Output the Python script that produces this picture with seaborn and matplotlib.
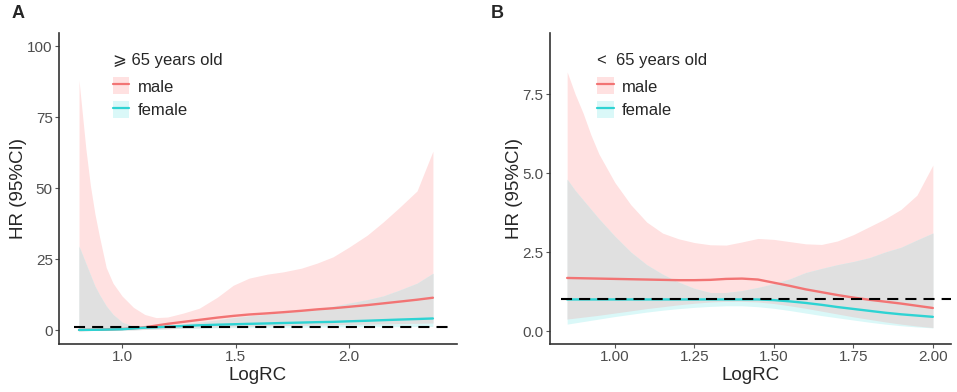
import numpy as np
import seaborn as sns
import matplotlib.pyplot as plt
from matplotlib.patches import Patch
from matplotlib.lines import Line2D
from matplotlib.ticker import FormatStrFormatter

# ---- panel A: >= 65 years old ----
xA = [0.81, 0.82, 0.84, 0.86, 0.88, 0.9, 0.93, 0.96, 1.0, 1.05, 1.1, 1.15, 1.2, 1.27, 1.34,
      1.42, 1.49, 1.56, 1.64, 1.71, 1.79, 1.86, 1.93, 2.0, 2.08, 2.15, 2.22, 2.3, 2.37]
maleA = [0.05, 0.05, 0.07, 0.09, 0.11, 0.13, 0.2, 0.28, 0.4, 0.65, 1.0, 1.6, 2.2, 2.9, 3.6,
         4.4, 5.0, 5.5, 5.9, 6.3, 6.8, 7.3, 7.7, 8.2, 8.8, 9.4, 10.0, 10.7, 11.4]
maleA_lo = [0.01, 0.01, 0.01, 0.01, 0.01, 0.01, 0.02, 0.03, 0.05, 0.1, 0.2, 0.35, 0.5, 0.7, 0.85,
            1.0, 1.15, 1.3, 1.45, 1.55, 1.7, 1.8, 1.9, 2.0, 2.1, 2.2, 2.3, 2.4, 2.5]
maleA_hi = [88, 80, 64, 51, 41, 33, 22, 16.5, 12, 8, 5.5, 4.4, 4.6, 6, 7.7,
            11.6, 15.8, 18.3, 19.7, 20.5, 21.8, 23.6, 25.8, 29.2, 33.4, 38, 43, 49, 63]
femaleA = [0.05, 0.05, 0.07, 0.09, 0.11, 0.13, 0.18, 0.23, 0.3, 0.6, 0.85, 1.0, 1.2, 1.45, 1.7,
           1.9, 2.05, 2.2, 2.35, 2.5, 2.65, 2.8, 2.9, 3.1, 3.3, 3.5, 3.7, 3.9, 4.1]
femaleA_lo = [0.01, 0.01, 0.01, 0.01, 0.01, 0.01, 0.01, 0.02, 0.03, 0.1, 0.25, 0.4, 0.5, 0.6, 0.7,
              0.8, 0.85, 0.9, 0.95, 1.0, 1.05, 1.1, 1.12, 1.15, 1.18, 1.2, 1.22, 1.25, 1.3]
femaleA_hi = [29.5, 27.5, 23.5, 19.5, 15.5, 12.5, 8.5, 5.5, 2.8, 1.3, 1.1, 1.3, 1.7, 2.2, 2.8,
              3.6, 4.4, 5.0, 5.6, 6.2, 7.0, 7.6, 8.4, 9.5, 10.7, 12, 14, 16.5, 20]

# ---- panel B: < 65 years old ----
xB = [0.85, 0.875, 0.9, 0.925, 0.95, 1.0, 1.05, 1.1, 1.15, 1.2, 1.25, 1.3, 1.35, 1.4, 1.45,
      1.5, 1.55, 1.6, 1.65, 1.7, 1.75, 1.8, 1.85, 1.9, 1.95, 2.0]
maleB = [1.68, 1.675, 1.67, 1.665, 1.66, 1.65, 1.64, 1.63, 1.62, 1.61, 1.61, 1.62, 1.65, 1.66,
         1.63, 1.53, 1.43, 1.32, 1.23, 1.14, 1.06, 0.99, 0.93, 0.87, 0.8, 0.73]
maleB_lo = [0.38, 0.41, 0.44, 0.47, 0.5, 0.57, 0.64, 0.71, 0.77, 0.83, 0.88, 0.92, 0.94, 0.94,
            0.92, 0.87, 0.8, 0.72, 0.63, 0.54, 0.45, 0.37, 0.29, 0.22, 0.16, 0.11]
maleB_hi = [8.2, 7.5, 6.9, 6.2, 5.6, 4.7, 4.0, 3.45, 3.1, 2.92, 2.8, 2.73, 2.72, 2.82,
            2.93, 2.9, 2.83, 2.76, 2.74, 2.85, 3.05, 3.3, 3.55, 3.85, 4.3, 5.25]
femaleB = [1.0, 1.0, 1.0, 1.0, 1.0, 1.0, 1.0, 1.0, 1.0, 1.0, 1.0, 1.0, 1.0, 1.0,
           1.0, 0.98, 0.94, 0.89, 0.83, 0.76, 0.7, 0.64, 0.58, 0.53, 0.49, 0.45]
femaleB_lo = [0.22, 0.26, 0.3, 0.34, 0.38, 0.46, 0.53, 0.6, 0.66, 0.71, 0.75, 0.78, 0.8, 0.8,
              0.77, 0.72, 0.65, 0.57, 0.49, 0.42, 0.35, 0.28, 0.22, 0.17, 0.13, 0.1]
femaleB_hi = [4.8, 4.45, 4.15, 3.85, 3.55, 3.0, 2.5, 2.1, 1.8, 1.55, 1.35, 1.22, 1.22, 1.28,
              1.38, 1.5, 1.65, 1.85, 1.98, 2.1, 2.2, 2.32, 2.5, 2.65, 2.88, 3.1]

sns.set_style("white")
plt.rcParams['font.family'] = ['Liberation Sans', 'DejaVu Sans']

MALE = '#F27474'
FEMALE = '#2ED3D3'
PINK = '#FFE1E1'
CYAN = '#DAF8F8'
GREY = '#E0E0E0'
TICK = '#4D4D4D'

fig = plt.figure(figsize=(9.57, 3.92), dpi=100)
axA = fig.add_axes([0.0617, 0.1224, 0.4158, 0.7934])
axB = fig.add_axes([0.5747, 0.1224, 0.4190, 0.7934])


def panel(ax, x, m, m_lo, m_hi, f, f_lo, f_hi, ref_x, title, leg_x):
    x = np.array(x)
    ax.fill_between(x, m_lo, m_hi, color=PINK, lw=0)
    ax.fill_between(x, f_lo, f_hi, color=CYAN, lw=0)
    # overlap of the two bands shows as grey
    lo = np.maximum(m_lo, f_lo)
    hi = np.minimum(m_hi, f_hi)
    ax.fill_between(x, lo, hi, where=hi > lo, color=GREY, lw=0, interpolate=True)
    sns.lineplot(x=x, y=m, color=MALE, lw=1.7, ax=ax)
    sns.lineplot(x=x, y=f, color=FEMALE, lw=1.7, ax=ax)
    ax.plot(ref_x, [1, 1], color='black', lw=1.5, dashes=(5.3, 3.4))
    for s in ['top', 'right']:
        ax.spines[s].set_visible(False)
    for s in ['left', 'bottom']:
        ax.spines[s].set_color('#333333')
        ax.spines[s].set_linewidth(1.2)
    ax.tick_params(axis='both', colors='#555555', labelcolor=TICK, labelsize=11,
                   length=3, width=0.8, pad=1.5, direction='out', left=True, bottom=True)
    ax.set_xlabel('LogRC', fontsize=13.5, labelpad=2)
    ax.set_ylabel('HR (95%CI)', fontsize=13.5, labelpad=0)
    handles = [(Patch(facecolor=PINK, edgecolor='none'), Line2D([], [], color=MALE, lw=1.6)),
               (Patch(facecolor=CYAN, edgecolor='none'), Line2D([], [], color=FEMALE, lw=1.6))]
    leg = ax.legend(handles, ['male', 'female'], title=title, loc='upper left',
                    bbox_to_anchor=(leg_x, 0.985), frameon=False, fontsize=12,
                    title_fontsize=12, handlelength=1.0, handleheight=1.2,
                    handletextpad=0.5, labelspacing=0.4, alignment='left')
    leg._legend_box.sep = 7
    return ax


panel(axA, xA, maleA, maleA_lo, maleA_hi, femaleA, femaleA_lo, femaleA_hi,
      [0.79, 2.45], '⩾ 65 years old', 0.097)
axA.set_xlim(0.722, 2.476)
axA.set_ylim(-4.9, 104.6)
axA.set_yticks([0, 25, 50, 75, 100])
axA.set_xticks([1.0, 1.5, 2.0])
axA.xaxis.set_major_formatter(FormatStrFormatter('%.1f'))

panel(axB, xB, maleB, maleB_lo, maleB_hi, femaleB, femaleB_lo, femaleB_hi,
      [0.83, 2.06], '<  65 years old', 0.08)
axB.set_xlim(0.796, 2.057)
axB.set_ylim(-0.41, 9.43)
axB.set_yticks([0.0, 2.5, 5.0, 7.5])
axB.set_xticks([1.0, 1.25, 1.5, 1.75, 2.0])
axB.xaxis.set_major_formatter(FormatStrFormatter('%.2f'))
axB.yaxis.set_major_formatter(FormatStrFormatter('%.1f'))

fig.text(0.012, 0.965, 'A', fontsize=13, fontweight='bold', va='center')
fig.text(0.513, 0.965, 'B', fontsize=13, fontweight='bold', va='center')

fig.savefig('out.png', dpi=100)
